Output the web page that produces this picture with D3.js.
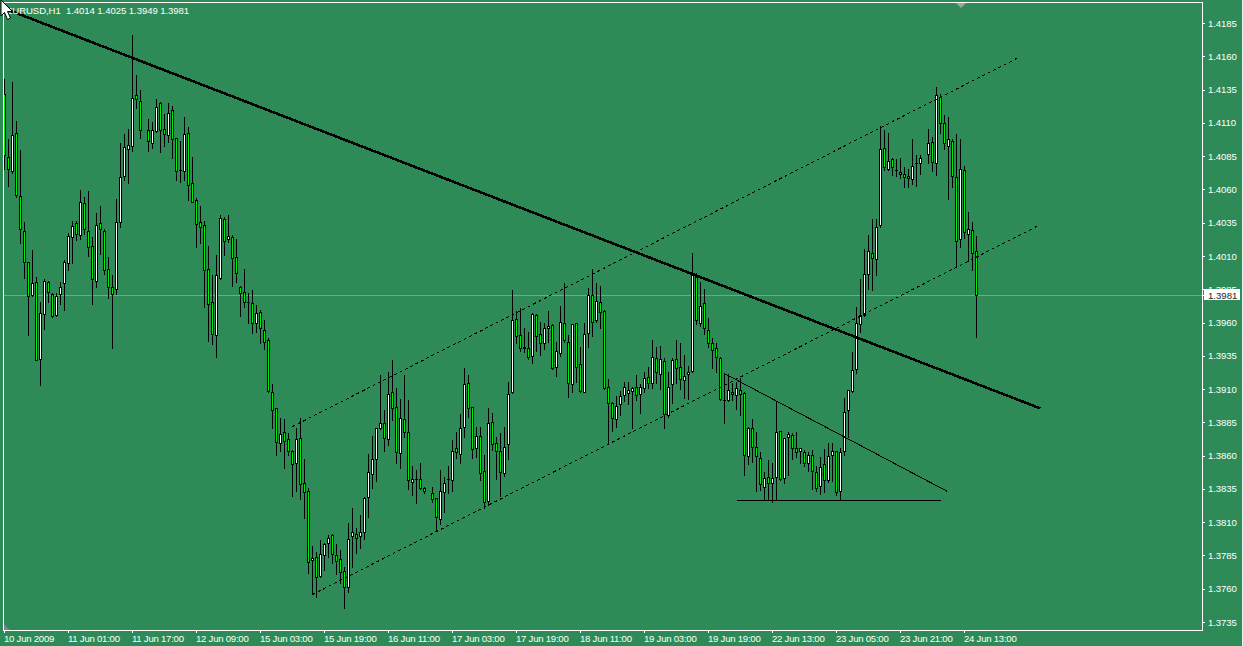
<!DOCTYPE html>
<html><head><meta charset="utf-8">
<script src="https://d3js.org/d3.v7.min.js"></script>
<style>
html,body{margin:0;padding:0;background:#2E8B57;overflow:hidden}
svg{display:block}
text{font-family:"Liberation Sans",Arial,sans-serif;font-size:9.6px;fill:#fff}
</style></head><body>
<script>
// EURUSD H1 quotes in points (1 point = 0.00001); null = no bar drawn on that slot
const opens=[141317,140843,140738,141023,140550,140287,140054,139806,139904,139326,
139664,139904,139814,139656,139814,139896,140046,140242,140347,140257,
140497,140287,140175,139911,140347,140287,140002,139866,139851,140355,
140700,140903,140926,141309,141263,null,141046,140948,141038,141248,
141053,141008,141196,140986,140746,140738,141023,140647,140520,140355,
140332,140002,139754,139506,139934,140377,140227,140242,140092,139866,
139829,139754,139746,139596,139679,139544,139469,139078,138958,138696,
138778,138725,138635,138545,138733,138394,138334,137816,137839,137696,
137853,137944,138004,137853,137823,137733,137613,137997,138012,137997,
138027,138289,138462,138575,138808,138846,138725,139078,138966,138620,
138876,138778,138402,138424,138424,138357,null,138319,138282,138124,
138327,138424,138417,138657,138612,138815,139145,138966,138657,138748,
138484,138259,138853,138695,138635,138470,138688,139078,139626,139506,
139408,139408,139348,139656,139514,139446,139559,139581,139266,139371,
139596,139454,139138,139596,139288,139078,139521,139806,139619,139754,
139686,139115,138995,138876,138988,139055,139070,139085,139115,139063,
139108,139191,139145,139333,139213,139311,138905,139138,139326,139266,
139168,139213,139236,139941,139596,139746,139544,139446,139408,139333,
139018,139018,139078,139055,139093,139070,138597,138808,138665,138582,
138364,138439,138394,138439,138785,138432,138740,138755,138657,138635,
138627,138545,138604,138477,138372,138537,138417,138604,138635,138334,
138635,138943,139085,139251,139589,139656,139964,140122,140077,140332,
140911,140753,140828,140746,140731,140716,140700,140678,140798,140798,
null,140866,140956,140798,141294,141098,140926,140963,140693,140227,
140746,140265,140295,140140];
const highs=[141429,140978,141407,141113,140896,140355,140054,140145,139941,139754,
139926,139911,139821,139821,139904,140069,140272,140362,140362,140595,
140542,140587,140242,140422,140475,140302,140092,139956,140527,140948,
141016,141053,141759,141459,141347,null,141128,141106,141279,141256,
141166,141248,141226,140986,140963,141143,141068,140843,140535,140475,
140362,140175,139956,140107,140407,140392,140407,140257,140227,139874,
140002,139821,139844,139731,139694,139619,139484,139138,138958,138883,
138876,138770,138642,138808,138883,138575,138357,137922,137876,137967,
137944,138004,138012,137937,137891,137763,138094,138207,138057,138154,
138289,138612,138748,138808,139206,138943,139228,139318,139108,139026,
139206,139018,138522,138492,138545,138364,null,138364,138282,138492,
138439,138522,138718,138778,138913,139258,139206,138966,138815,138815,
138604,138958,138920,138740,138770,138815,139153,139844,139686,139709,
139559,139529,139671,139664,139604,139596,139686,139589,139454,139724,
139896,139506,139589,139596,139416,139596,139859,140002,139896,139874,
139694,139175,139003,139048,139085,139153,139153,139115,139206,139138,
139228,139266,139469,139416,139424,139333,139228,139333,139469,139446,
139356,139273,140122,139971,139904,139851,139634,139484,139446,139340,
139220,139213,139145,139153,139183,139078,138815,138876,138778,138627,
138477,138567,138545,139010,138785,138733,138778,138770,138778,138657,
138642,138627,138642,138522,138590,138650,138695,138695,138635,138657,
139033,139093,139378,139716,139926,140152,140257,140377,140377,141076,
141046,141023,140836,140828,140836,140768,140753,140978,140858,140858,
null,141053,140993,141369,141317,141158,141143,140978,141016,140978,
140776,140430,140355,140250];
const lows=[140753,140625,140723,140542,140197,139934,139506,139799,139318,139130,
139551,139754,139641,139649,139739,139694,139994,140046,140220,140227,
140265,140100,139739,139866,140115,139964,139784,139408,139814,140317,
140670,140647,140888,141211,140986,null,140888,140911,141031,140881,
140926,140956,140836,140670,140655,140670,140520,140505,140167,140197,
139716,139461,139439,139340,139926,140107,140205,139874,139904,139649,
139716,139596,139521,139529,139446,139401,139078,138808,138604,138635,
138507,138604,138297,138334,138274,138132,137718,137561,137538,137688,
137741,137839,137793,137711,137643,137456,137576,137763,137868,137907,
137974,138139,138357,138409,138800,138635,138680,138868,138545,138507,
138740,138349,138304,138244,138349,138319,null,138252,138034,138087,
138177,138319,138334,138582,138545,138740,138890,138582,138590,138417,
138207,138229,138642,138424,138297,138447,138575,139070,139446,139386,
139378,139326,139295,139386,139356,139401,139454,139251,139198,139348,
139454,139040,139078,139153,139078,139078,139416,139499,139604,139559,
139100,138688,138785,138815,138905,139010,138988,138808,139018,138920,
139078,139108,139108,139145,139100,138808,138890,138995,139145,139100,
139033,139025,139228,139589,139574,139514,139416,139258,139228,139018,
138846,139010,139018,138951,138905,138454,138537,138552,138334,138342,
138267,138267,138252,138274,138417,138394,138454,138575,138590,138545,
138522,138484,138349,138334,138312,138327,138402,138409,138304,138267,
138604,138740,139078,139220,139529,139649,139851,139844,139956,140317,
140746,140746,140708,140700,140685,140618,140618,140640,140625,140716,
null,140798,140738,140708,141023,140903,140527,140618,140017,140167,
140235,140062,139994,139490];
const closes=[140858,140753,141008,140557,140302,140054,139799,139896,139318,139671,
139911,139829,139649,139799,139866,140054,140250,140325,140265,140505,
140302,140167,139926,140332,140302,139994,139866,139814,140355,140693,
140918,140933,141287,141279,141046,null,140963,141046,141218,141046,
141016,141173,140978,140738,140746,141016,140632,140505,140340,140317,
139994,139739,139514,139956,140385,140212,140250,140084,139971,139821,
139754,139754,139596,139671,139559,139454,139085,138943,138703,138763,
138710,138635,138537,138725,138387,138327,137801,137831,137688,137861,
137937,137982,137861,137808,137726,137613,137974,138027,137982,138027,
138282,138477,138575,138808,138846,138733,139063,138958,138627,138883,
138778,138417,138424,138424,138357,138334,null,138274,138139,138334,
138394,138424,138635,138627,138808,139138,138958,138650,138748,138470,
138252,138846,138688,138635,138477,138665,139063,139619,139499,139408,
139416,139340,139664,139499,139446,139559,139574,139258,139386,139604,
139469,139145,139589,139266,139085,139514,139806,139604,139761,139679,
139108,138995,138883,138973,139048,139115,139093,139108,139055,139115,
139183,139145,139340,139228,139326,138913,139115,139318,139258,139175,
139198,139228,139956,139619,139724,139559,139446,139393,139340,139025,
139018,139093,139063,139108,139063,138604,138808,138665,138597,138387,
138432,138394,138432,138778,138424,138733,138763,138657,138627,138657,
138545,138604,138484,138357,138515,138417,138597,138635,138327,138627,
138928,139093,139243,139596,139656,139964,140137,140084,140317,140903,
140768,140813,140768,140746,140716,140693,140685,140776,140798,140836,
null,140948,140806,141309,141098,140948,140978,140700,140212,140753,
140280,140302,140122,139810];

const headerText="EURUSD,H1  1.4014 1.4025 1.3949 1.3981";
const bidPrice=139810;
const priceTicks=[137350,137600,137850,138100,138350,138600,138850,139100,139350,139600,139850,140100,140350,140600,140850,141100,141350,141600,141850];
const timeBars=[0,16,32,48,64,80,96,112,128,144,160,176,192,208,224,240];
const timeLabels=["10 Jun 2009","11 Jun 01:00","11 Jun 17:00","12 Jun 09:00","15 Jun 03:00","15 Jun 19:00","16 Jun 11:00","17 Jun 03:00","17 Jun 19:00","18 Jun 11:00","19 Jun 03:00","19 Jun 19:00","22 Jun 13:00","23 Jun 05:00","23 Jun 21:00","24 Jun 13:00"];

// Drawn objects: [bar, price] at each end
const mainTrend=[[0,141963],[259,138958]];
const channelUpper=[[72,138822],[254,141602]];
const channelLower=[[77,137560],[259,140340]];
const wedgeTop=[[180,139220],[235.75,138334]];
const wedgeBase=[[183,138266],[234,138266]];

const W=1243,H=646;
const x=d3.scaleLinear().domain([0,243]).range([4,976]);
const y=d3.scaleLinear().domain([137350,141850]).range([622,23]);
const py=v=>Math.round(y(v));

const svg=d3.select("body").append("svg").attr("width",W).attr("height",H);
svg.append("rect").attr("width",W).attr("height",H).attr("fill","#2E8B57");
svg.append("rect").attr("x",1242).attr("width",1).attr("height",H).attr("fill","#f0f0f0");

svg.append("defs").append("clipPath").attr("id","plot").append("rect")
  .attr("x",4).attr("y",3).attr("width",1198).attr("height",627);
const plot=svg.append("g").attr("clip-path","url(#plot)").attr("shape-rendering","crispEdges");

// bid line
plot.append("line").attr("x1",4).attr("x2",1202).attr("y1",py(bidPrice)+.5).attr("y2",py(bidPrice)+.5)
  .attr("stroke","#7fa08f");

const bars=opens.map((o,i)=>({i,o,h:highs[i],l:lows[i],c:closes[i]})).filter(d=>d.o!==null);
const candle=plot.append("g").selectAll("g").data(bars).join("g");
candle.append("rect").attr("x",d=>x(d.i)).attr("width",1)
  .attr("y",d=>py(d.h)).attr("height",d=>py(d.l)-py(d.h)+1).attr("fill","#000");
candle.append("rect").attr("x",d=>x(d.i)-1).attr("width",3)
  .attr("y",d=>py(Math.max(d.o,d.c))).attr("height",d=>py(Math.min(d.o,d.c))-py(Math.max(d.o,d.c))+1).attr("fill","#000");
candle.filter(d=>py(Math.min(d.o,d.c))-py(Math.max(d.o,d.c))>1).append("rect").attr("x",d=>x(d.i)).attr("width",1)
  .attr("y",d=>py(Math.max(d.o,d.c))+1).attr("height",d=>py(Math.min(d.o,d.c))-py(Math.max(d.o,d.c))-1)
  .attr("fill",d=>d.c>d.o?"#fff":"#00f000");

// objects
const lineGen=d3.line().x(d=>x(d[0])+.5).y(d=>y(d[1])+.5);
const objects=svg.append("g").attr("fill","none").attr("stroke","#000").attr("clip-path","url(#plot)").attr("shape-rendering","crispEdges");
objects.append("path").attr("d",lineGen(mainTrend)).attr("stroke-width",2.6);
objects.append("path").attr("d",lineGen(channelUpper)).attr("stroke-dasharray","3 3").attr("stroke-width",1);
objects.append("path").attr("d",lineGen(channelLower)).attr("stroke-dasharray","3 3").attr("stroke-width",1);
objects.append("path").attr("d",lineGen(wedgeTop)).attr("stroke-width",1);
objects.append("path").attr("d",lineGen(wedgeBase)).attr("stroke-width",1);

// frame
svg.append("rect").attr("x",3.5).attr("y",2.5).attr("width",1199).attr("height",628)
  .attr("fill","none").attr("stroke","#fff").attr("shape-rendering","crispEdges");

// axes
const yAxis=d3.axisRight(y).tickValues(priceTicks).tickSize(3).tickPadding(3).tickFormat(v=>(v/1e5).toFixed(4));
const gy=svg.append("g").attr("transform","translate(1202,0)").call(yAxis);
const xAxis=d3.axisBottom(x).tickValues(timeBars).tickSize(3).tickPadding(2).tickFormat(i=>timeLabels[timeBars.indexOf(i)]);
const gx=svg.append("g").attr("transform","translate(0,630)").call(xAxis);
[gy,gx].forEach(g=>{
  g.select(".domain").remove();
  g.selectAll("line").attr("stroke","#fff").attr("shape-rendering","crispEdges");
  g.selectAll("text").attr("fill","#fff").style("font-size","9.6px");
});
gx.selectAll("text").attr("text-anchor","start").attr("dx",-.5).style("letter-spacing","-0.25px");
gy.selectAll("text").style("letter-spacing","-0.1px");

// price box
svg.append("rect").attr("x",1204).attr("y",py(bidPrice)-6).attr("width",36).attr("height",11).attr("fill","#fff");
svg.append("line").attr("x1",1202).attr("x2",1205).attr("y1",py(bidPrice)+.5).attr("y2",py(bidPrice)+.5).attr("stroke","#fff");
svg.append("text").attr("x",1208).attr("y",py(bidPrice)+3.5).style("fill","#222").text((bidPrice/1e5).toFixed(4));

// header, markers and mouse pointer
svg.append("text").attr("x",6).attr("y",13.5).attr("xml:space","preserve").style("white-space","pre").style("letter-spacing","-0.08px").text(headerText);
svg.append("path").attr("d","M956 3H966L961 8Z").attr("fill","#9aa5a0");
svg.append("path").attr("d","M4 624L10 630H4Z").attr("fill","#7f7f9a");
svg.append("path").attr("d","M1 0V16L4.5 12.5L7.5 19.5L10.5 18L7.5 11.5H12.5Z").attr("fill","#fff").attr("stroke","#000").attr("stroke-width",1);
</script>
</body></html>
